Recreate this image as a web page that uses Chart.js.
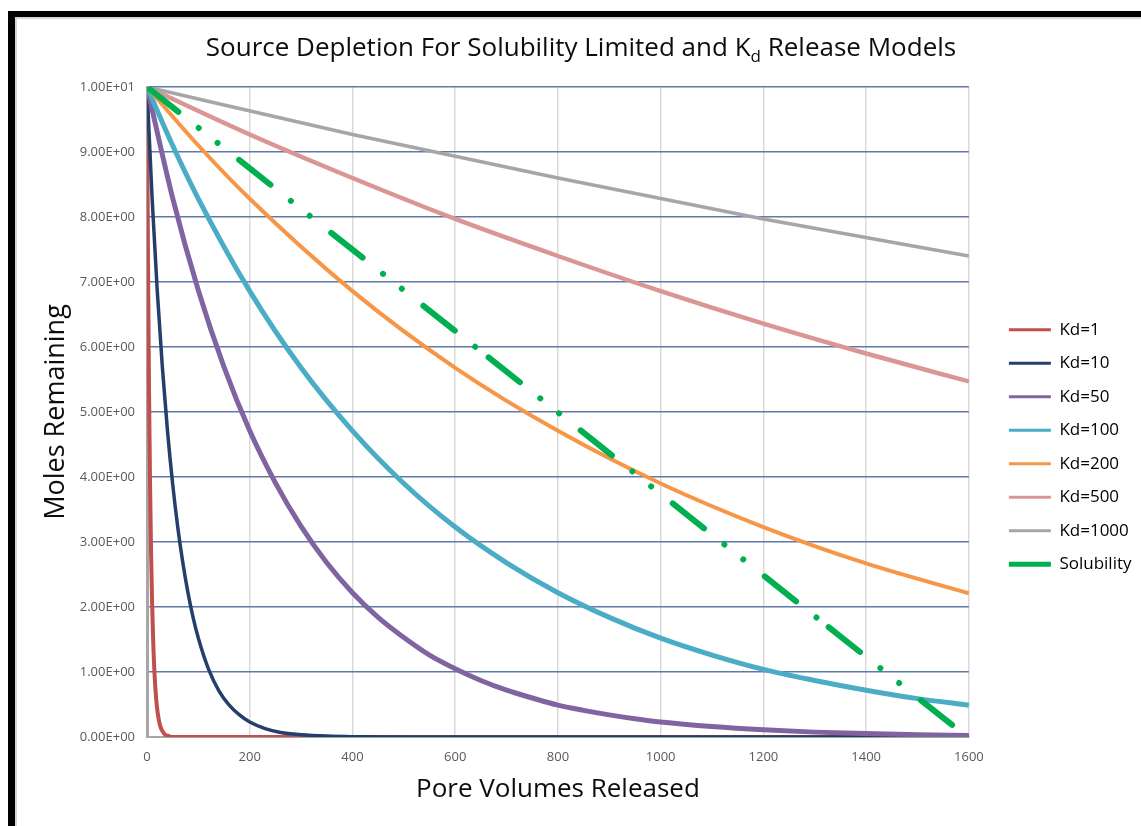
<!DOCTYPE html>
<html>
<head>
<meta charset="utf-8">
<script src="https://cdn.jsdelivr.net/npm/chart.js@4.4.1/dist/chart.umd.min.js"></script>
<style>
  html, body { margin: 0; padding: 0; background: #fff; overflow: hidden; width: 1141px; height: 826px; }
  #wrap { position: absolute; left: 0; top: 0; width: 1141px; height: 826px; }
  #frame { position: absolute; left: 8px; top: 11px; width: 1400px; height: 1100px;
           border-left: 7px solid #000; border-top: 6px solid #000;
           box-shadow: inset 2px 2px 0 #d6d6d6; pointer-events: none; }
</style>
</head>
<body>
<div id="wrap"><canvas id="c" width="1141" height="826"></canvas></div>
<div id="frame"></div>
<script>
// ---- data ----
const titlePre = 'Source Depletion For Solubility Limited and K';
const titleSub = 'd';
const titlePost = ' Release Models';
const xTitle = 'Pore Volumes Released';
const yTitle = 'Moles Remaining';

const seriesNames = ['Kd=1', 'Kd=10', 'Kd=50', 'Kd=100', 'Kd=200', 'Kd=500', 'Kd=1000', 'Solubility'];

const xKd1 = [0, 2, 4, 6, 8, 10, 12, 15, 18, 21, 25, 30, 35, 40, 50, 100, 400, 800, 1200, 1600];
const yKd1 = [10, 7.28, 5.30, 3.86, 2.81, 2.05, 1.49, 0.92, 0.57, 0.36, 0.19, 0.09, 0.04, 0.02, 0, 0, 0, 0, 0, 0];

const xKd10 = [0, 10, 20, 30, 40, 50, 60, 70, 80, 90, 100, 120, 140, 160, 180, 200, 230, 260, 300, 350, 400, 500, 800, 1200, 1600];
const yKd10 = [10, 8.28, 6.86, 5.68, 4.70, 3.89, 3.22, 2.67, 2.21, 1.83, 1.52, 1.04, 0.71, 0.49, 0.34, 0.23, 0.13, 0.07, 0.035, 0.014, 0.005, 0, 0, 0, 0];

const xKd50 = [0, 50, 100, 150, 200, 250, 300, 350, 400, 450, 500, 550, 600, 650, 700, 750, 800, 850, 900, 950, 1000, 1100, 1200, 1300, 1400, 1500, 1600];
const yKd50 = [10, 8.29, 6.87, 5.69, 4.71, 3.91, 3.24, 2.68, 2.22, 1.84, 1.53, 1.26, 1.05, 0.87, 0.72, 0.60, 0.49, 0.41, 0.34, 0.28, 0.23, 0.16, 0.11, 0.075, 0.052, 0.036, 0.024];

const xKd100 = [0, 50, 100, 200, 300, 400, 500, 600, 700, 800, 900, 1000, 1100, 1200, 1300, 1400, 1500, 1600];
const yKd100 = [10, 9.10, 8.28, 6.86, 5.68, 4.71, 3.90, 3.23, 2.68, 2.22, 1.84, 1.52, 1.26, 1.04, 0.87, 0.72, 0.59, 0.49];

const xKd200 = [0, 100, 200, 400, 600, 800, 1000, 1200, 1400, 1600];
const yKd200 = [10, 9.10, 8.28, 6.86, 5.68, 4.71, 3.90, 3.23, 2.67, 2.21];

const xKd500 = [0, 200, 400, 600, 800, 1000, 1200, 1400, 1600];
const yKd500 = [10, 9.27, 8.60, 7.97, 7.40, 6.86, 6.36, 5.90, 5.47];

const xKd1000 = [0, 400, 800, 1200, 1600];
const yKd1000 = [10, 9.27, 8.60, 7.97, 7.40];

const xSol = [0, 665, 1327, 1573];
const ySol = [10, 5.84, 1.69, 0.15];

const xTickLabels = ['0', '200', '400', '600', '800', '1000', '1200', '1400', '1600'];
const yTickLabels = ['0.00E+00', '1.00E+00', '2.00E+00', '3.00E+00', '4.00E+00', '5.00E+00',
                     '6.00E+00', '7.00E+00', '8.00E+00', '9.00E+00', '1.00E+01'];

// ---- styles ----
const colors = ['#C0504D', '#243F6B', '#8064A2', '#4BACC6', '#F79646', '#D99694', '#A6A6A6', '#00B050'];
const widths = [4, 3.5, 5, 5, 4, 4.5, 3.5, 6];
const solDash = [40, 26, 0.001, 24, 0.001, 27.5];

const xs = [xKd1, xKd10, xKd50, xKd100, xKd200, xKd500, xKd1000, xSol];
const ys = [yKd1, yKd10, yKd50, yKd100, yKd200, yKd500, yKd1000, ySol];

const datasets = seriesNames.map((name, i) => {
  const isSol = i === seriesNames.length - 1;
  const ds = {
    label: name,
    data: xs[i].map((x, j) => ({ x: x, y: ys[i][j] })),
    borderColor: colors[i],
    backgroundColor: colors[i],
    borderWidth: widths[i],
    pointRadius: 0,
    pointHoverRadius: 0,
    fill: false,
    cubicInterpolationMode: isSol ? 'default' : 'monotone',
    borderDash: isSol ? solDash : [],
    borderCapStyle: isSol ? 'round' : 'butt',
    order: seriesNames.length - i
  };
  if (isSol) {
    // the dash pattern restarts at every data point, as in the reference
    ds.segment = { borderDashOffset: (ctx) => (ctx.p0DataIndex % 2 ? 0.0001 : 0) };
  }
  return ds;
});

Chart.defaults.font.family = '"Open Sans", sans-serif';

const titlePlugin = {
  id: 'subscriptTitle',
  afterDraw(chart) {
    const ctx = chart.ctx;
    ctx.save();
    const bigFont = '26px "Open Sans", sans-serif';
    const smallFont = '17px "Open Sans", sans-serif';
    ctx.textBaseline = 'middle';
    ctx.textAlign = 'left';
    ctx.fillStyle = '#0d0d0d';
    ctx.font = bigFont;
    const w1 = ctx.measureText(titlePre).width;
    const w3 = ctx.measureText(titlePost).width;
    ctx.font = smallFont;
    const w2 = ctx.measureText(titleSub).width;
    const cx = 581, cy = 49;
    let x = cx - (w1 + w2 + w3) / 2;
    ctx.font = bigFont;
    ctx.fillText(titlePre, x, cy);
    x += w1;
    ctx.font = smallFont;
    ctx.fillText(titleSub, x, cy + 8);
    x += w2;
    ctx.font = bigFont;
    ctx.fillText(titlePost, x, cy);
    ctx.restore();
  }
};

const legendShift = {
  id: 'legendShift',
  afterLayout(chart) {
    const l = chart.legend;
    if (l) { l.left += 23.5; l.right += 23.5; }
  }
};

new Chart(document.getElementById('c'), {
  type: 'line',
  data: { datasets: datasets },
  plugins: [titlePlugin, legendShift],
  options: {
    responsive: false,
    animation: false,
    events: [],
    layout: { padding: { left: 30, top: 87, right: 23, bottom: 19 } },
    plugins: {
      title: { display: false },
      tooltip: { enabled: false },
      legend: {
        position: 'right',
        align: 'center',
        labels: {
          usePointStyle: true,
          pointStyleWidth: 42,
          padding: 16.5,
          color: '#000',
          font: { size: 17 },
          generateLabels: (chart) => chart.data.datasets.map((ds, i) => ({
            text: ds.label,
            fillStyle: ds.borderColor,
            strokeStyle: ds.borderColor,
            lineWidth: i === 7 ? 5 : 3,
            lineDash: [],
            lineCap: 'butt',
            pointStyle: 'line',
            hidden: false,
            datasetIndex: i,
            fontColor: '#000'
          }))
        }
      }
    },
    scales: {
      x: {
        type: 'linear',
        min: 0,
        max: 1600,
        afterFit: (s) => { s.height = 70; },
        ticks: {
          stepSize: 200,
          padding: 12,
          color: '#595959',
          font: { size: 13 },
          maxRotation: 0,
          callback: (v, idx) => xTickLabels[idx]
        },
        grid: { color: '#D9D9D9', lineWidth: 1.5, drawTicks: false },
        border: { display: true, color: '#A6A6A6', width: 2 },
        title: { display: true, text: xTitle, color: '#0d0d0d', font: { size: 26 }, padding: { top: 0, bottom: 2 } }
      },
      y: {
        type: 'linear',
        min: 0,
        max: 10,
        afterFit: (s) => { s.width = 117; },
        ticks: {
          stepSize: 1,
          padding: 12,
          color: '#595959',
          font: { size: 13 },
          callback: (v, idx) => yTickLabels[idx]
        },
        grid: { color: '#6079A6', lineWidth: 1.5, drawTicks: false },
        border: { display: true, color: '#A6A6A6', width: 3 },
        title: { display: true, text: yTitle, color: '#0d0d0d', font: { size: 27 }, padding: { top: 10.5, bottom: 0 } }
      }
    }
  }
});
</script>
</body>
</html>
